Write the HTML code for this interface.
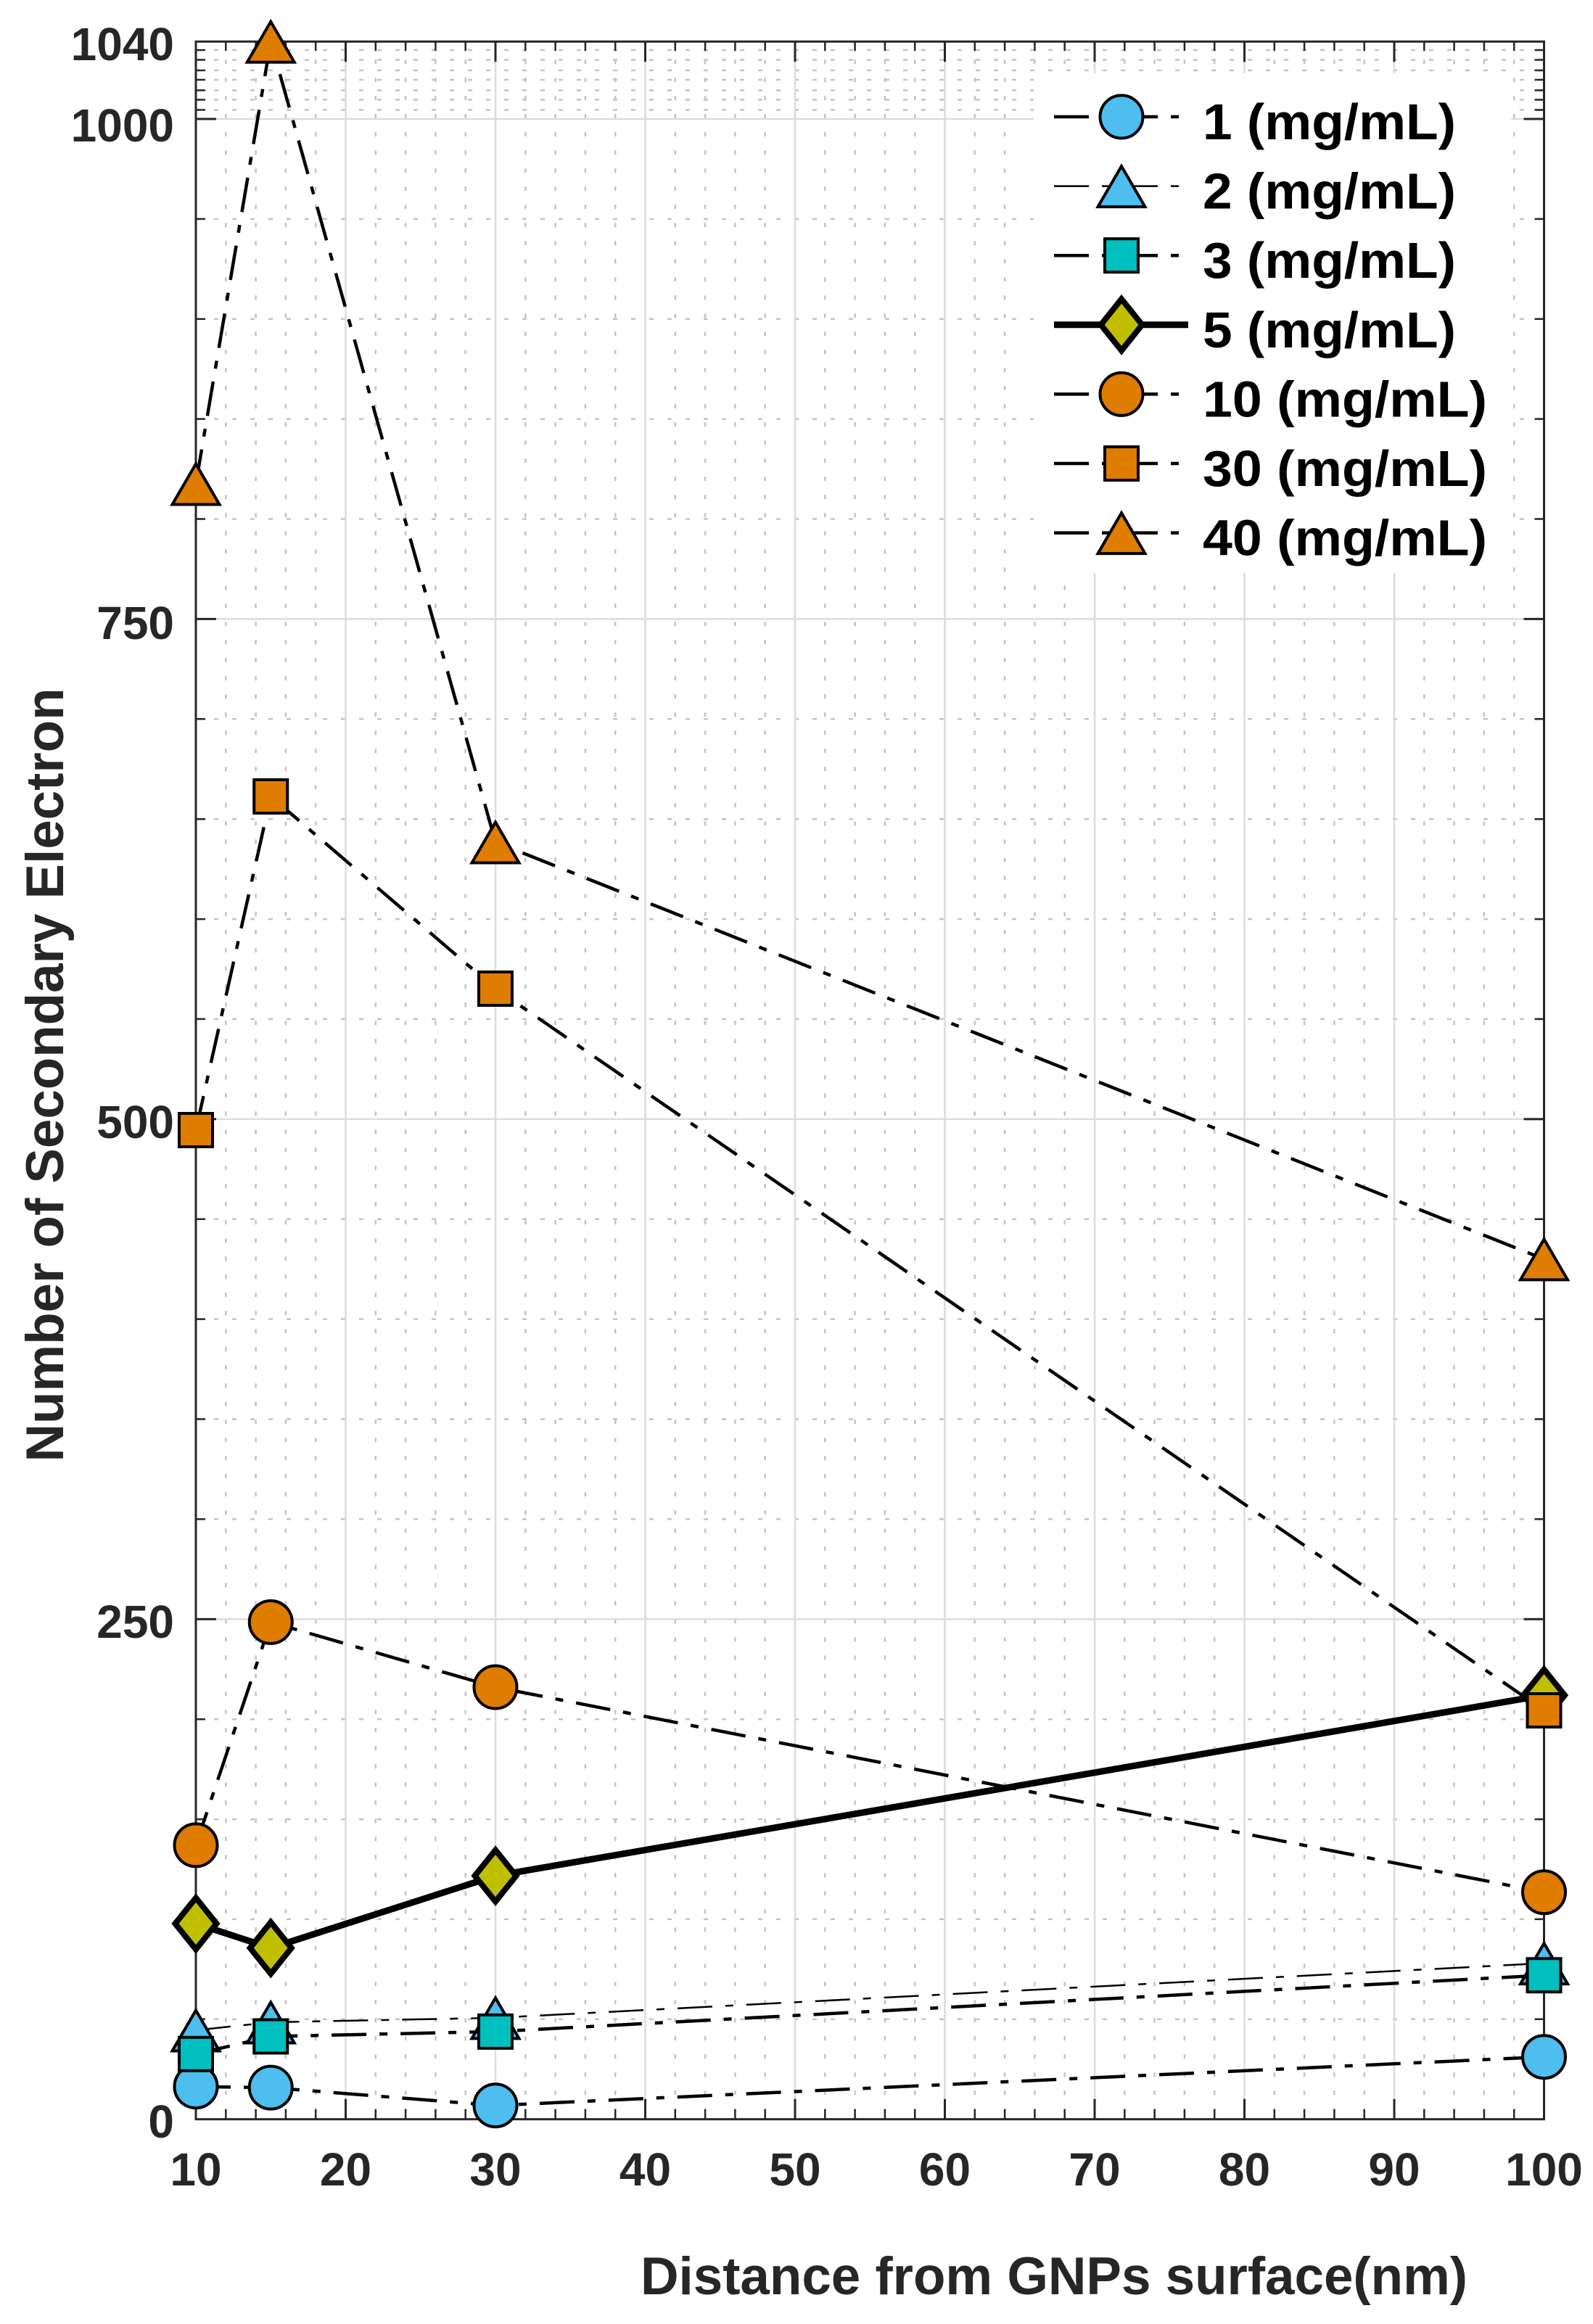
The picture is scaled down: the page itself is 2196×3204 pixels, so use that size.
<!DOCTYPE html>
<html><head><meta charset="utf-8"><style>
html,body{margin:0;padding:0;background:#fff;}
svg{display:block;}
text{font-family:"Liberation Sans",Arial,sans-serif;font-weight:bold;}
</style></head><body>
<svg width="2196" height="3204" viewBox="0 0 2196 3204" xmlns="http://www.w3.org/2000/svg">
<rect width="2196" height="3204" fill="#fff"/>
<!-- minor grid -->
<path fill="none" stroke="#c4c4c4" stroke-width="2.5" stroke-dasharray="6 19" d="
M311.3 57.3V2921.7M352.6 57.3V2921.7M393.9 57.3V2921.7M435.2 57.3V2921.7
M517.8 57.3V2921.7M559.1 57.3V2921.7M600.4 57.3V2921.7M641.7 57.3V2921.7
M724.3 57.3V2921.7M765.6 57.3V2921.7M806.9 57.3V2921.7M848.2 57.3V2921.7
M930.8 57.3V2921.7M972.1 57.3V2921.7M1013.4 57.3V2921.7M1054.7 57.3V2921.7
M1137.3 57.3V2921.7M1178.6 57.3V2921.7M1219.9 57.3V2921.7M1261.2 57.3V2921.7
M1343.8 57.3V2921.7M1385.1 57.3V2921.7M1426.4 57.3V2921.7M1467.7 57.3V2921.7
M1550.3 57.3V2921.7M1591.6 57.3V2921.7M1632.9 57.3V2921.7M1674.2 57.3V2921.7
M1756.8 57.3V2921.7M1798.1 57.3V2921.7M1839.4 57.3V2921.7M1880.7 57.3V2921.7
M1963.3 57.3V2921.7M2004.6 57.3V2921.7M2045.9 57.3V2921.7M2087.2 57.3V2921.7
M270 2783.8H2128.5M270 2645.9H2128.5M270 2508.1H2128.5M270 2370.2H2128.5
M270 2094.4H2128.5M270 1956.5H2128.5M270 1818.6H2128.5M270 1680.7H2128.5
M270 1404.9H2128.5M270 1267.1H2128.5M270 1129.2H2128.5M270 991.3H2128.5
M270 715.5H2128.5M270 577.6H2128.5M270 439.8H2128.5M270 301.9H2128.5
M270 151.5H2128.5M270 137.5H2128.5M270 124.5H2128.5M270 110H2128.5
M270 97H2128.5M270 82.5H2128.5M270 69H2128.5"/>
<!-- major grid -->
<path fill="none" stroke="#dcdcdc" stroke-width="2.5" d="
M476.5 57.3V2921.7M683 57.3V2921.7M889.5 57.3V2921.7M1096 57.3V2921.7
M1302.5 57.3V2921.7M1509 57.3V2921.7M1715.5 57.3V2921.7M1922 57.3V2921.7
M270 2232.3H2128.5M270 1542.9H2128.5M270 853.4H2128.5M270 164H2128.5"/>
<!-- axes box -->
<rect x="270" y="57.3" width="1858.5" height="2864.4" fill="none" stroke="#262626" stroke-width="3"/>
<!-- ticks -->
<path fill="none" stroke="#262626" stroke-width="3" d="
M270 2232.3h28M270 1542.9h28M270 853.4h28M270 164h28
M2128.5 2232.3h-28M2128.5 1542.9h-28M2128.5 853.4h-28M2128.5 164h-28
M476.5 2921.7v-28M683 2921.7v-28M889.5 2921.7v-28M1096 2921.7v-28M1302.5 2921.7v-28M1509 2921.7v-28M1715.5 2921.7v-28M1922 2921.7v-28
M476.5 57.3v28M683 57.3v28M889.5 57.3v28M1096 57.3v28M1302.5 57.3v28M1509 57.3v28M1715.5 57.3v28M1922 57.3v28"/>
<path fill="none" stroke="#262626" stroke-width="2.5" d="
M270 2783.8h13M270 2645.9h13M270 2508.1h13M270 2370.2h13M270 2094.4h13M270 1956.5h13M270 1818.6h13M270 1680.7h13
M270 1404.9h13M270 1267.1h13M270 1129.2h13M270 991.3h13M270 715.5h13M270 577.6h13M270 439.8h13M270 301.9h13
M270 151.5h13M270 137.5h13M270 124.5h13M270 110h13M270 97h13M270 82.5h13M270 69h13
M2128.5 2783.8h-13M2128.5 2645.9h-13M2128.5 2508.1h-13M2128.5 2370.2h-13M2128.5 2094.4h-13M2128.5 1956.5h-13M2128.5 1818.6h-13M2128.5 1680.7h-13
M2128.5 1404.9h-13M2128.5 1267.1h-13M2128.5 1129.2h-13M2128.5 991.3h-13M2128.5 715.5h-13M2128.5 577.6h-13M2128.5 439.8h-13M2128.5 301.9h-13
M2128.5 151.5h-13M2128.5 137.5h-13M2128.5 124.5h-13M2128.5 110h-13M2128.5 97h-13M2128.5 82.5h-13M2128.5 69h-13
M311.3 2921.7v-14M352.6 2921.7v-14M393.9 2921.7v-14M435.2 2921.7v-14M517.8 2921.7v-14M559.1 2921.7v-14M600.4 2921.7v-14M641.7 2921.7v-14
M724.3 2921.7v-14M765.6 2921.7v-14M806.9 2921.7v-14M848.2 2921.7v-14M930.8 2921.7v-14M972.1 2921.7v-14M1013.4 2921.7v-14M1054.7 2921.7v-14
M1137.3 2921.7v-14M1178.6 2921.7v-14M1219.9 2921.7v-14M1261.2 2921.7v-14M1343.8 2921.7v-14M1385.1 2921.7v-14M1426.4 2921.7v-14M1467.7 2921.7v-14
M1550.3 2921.7v-14M1591.6 2921.7v-14M1632.9 2921.7v-14M1674.2 2921.7v-14M1756.8 2921.7v-14M1798.1 2921.7v-14M1839.4 2921.7v-14M1880.7 2921.7v-14
M1963.3 2921.7v-14M2004.6 2921.7v-14M2045.9 2921.7v-14M2087.2 2921.7v-14
M311.3 57.3v13M352.6 57.3v13M393.9 57.3v13M435.2 57.3v13M517.8 57.3v13M559.1 57.3v13M600.4 57.3v13M641.7 57.3v13
M724.3 57.3v13M765.6 57.3v13M806.9 57.3v13M848.2 57.3v13M930.8 57.3v13M972.1 57.3v13M1013.4 57.3v13M1054.7 57.3v13
M1137.3 57.3v13M1178.6 57.3v13M1219.9 57.3v13M1261.2 57.3v13M1343.8 57.3v13M1385.1 57.3v13M1426.4 57.3v13M1467.7 57.3v13
M1550.3 57.3v13M1591.6 57.3v13M1632.9 57.3v13M1674.2 57.3v13M1756.8 57.3v13M1798.1 57.3v13M1839.4 57.3v13M1880.7 57.3v13
M1963.3 57.3v13M2004.6 57.3v13M2045.9 57.3v13M2087.2 57.3v13"/>
<!-- tick labels -->
<g fill="#262626" font-size="64" text-anchor="end">
<text x="240" y="83">1040</text>
<text x="240" y="195">1000</text>
<text x="240" y="881">750</text>
<text x="240" y="1569">500</text>
<text x="240" y="2258">250</text>
<text x="240" y="2947">0</text>
</g>
<g fill="#262626" font-size="64" text-anchor="middle">
<text x="270" y="3013">10</text>
<text x="476.5" y="3013">20</text>
<text x="683" y="3013">30</text>
<text x="889.5" y="3013">40</text>
<text x="1096" y="3013">50</text>
<text x="1302.5" y="3013">60</text>
<text x="1509" y="3013">70</text>
<text x="1715.5" y="3013">80</text>
<text x="1922" y="3013">90</text>
<text x="2128.5" y="3013">100</text>
</g>
<!-- axis labels -->
<text x="883" y="3163" font-size="73" fill="#262626" textLength="1140" lengthAdjust="spacingAndGlyphs">Distance from GNPs surface(nm)</text>
<text transform="translate(87,1482) rotate(-90)" x="0" y="0" font-size="73" fill="#262626" text-anchor="middle" textLength="1067" lengthAdjust="spacingAndGlyphs">Number of Secondary Electron</text>

<!-- Series 1 -->
<polyline fill="none" stroke="#000" stroke-width="4.5" stroke-dasharray="48 18 11 18" points="270,2876.7 373.25,2878.1 683,2902.7 2128.5,2835.7"/>
<g fill="#4DBEEE" stroke="#000" stroke-width="4">
<circle cx="270" cy="2876.7" r="29.5"/><circle cx="373.25" cy="2878.1" r="29.5"/><circle cx="683" cy="2902.7" r="29.5"/><circle cx="2128.5" cy="2835.7" r="29.5"/>
</g>
<!-- Series 2 -->
<polyline fill="none" stroke="#000" stroke-width="2.5" stroke-dasharray="48 18 11 18" points="270,2799 373.25,2788 683,2781.9 2128.5,2706.6"/>
<g fill="#4DBEEE" stroke="#000" stroke-width="4">
<path d="M270,2771.5 L302.5,2827.5 L237.5,2827.5Z"/>
<path d="M373.25,2760.5 L405.75,2816.5 L340.75,2816.5Z"/>
<path d="M683,2754.4 L715.5,2810.4 L650.5,2810.4Z"/>
<path d="M2128.5,2679.1 L2161,2735.1 L2096,2735.1Z"/>
</g>
<!-- Series 3 -->
<polyline fill="none" stroke="#000" stroke-width="4.5" stroke-dasharray="48 18 11 18" points="270,2831.8 373.25,2807.5 683,2800.9 2128.5,2723.2"/>
<g fill="#00BFBF" stroke="#000" stroke-width="4">
<rect x="247" y="2808.8" width="46" height="46"/><rect x="350.25" y="2784.5" width="46" height="46"/><rect x="660" y="2777.9" width="46" height="46"/><rect x="2105.5" y="2700.2" width="46" height="46"/>
</g>
<!-- Series 5 -->
<polyline fill="none" stroke="#000" stroke-width="9" stroke-linejoin="round" points="270,2652 373.25,2685.6 683,2586.1 2128.5,2337.1"/>
<g fill="#BFBF00" stroke="#000" stroke-width="8">
<path d="M270,2616.5 L298.5,2652 L270,2687.5 L241.5,2652Z"/>
<path d="M373.25,2650.1 L401.75,2685.6 L373.25,2721.1 L344.75,2685.6Z"/>
<path d="M683,2550.6 L711.5,2586.1 L683,2621.6 L654.5,2586.1Z"/>
<path d="M2128.5,2301.6 L2157,2337.1 L2128.5,2372.6 L2100,2337.1Z"/>
</g>
<!-- Series 10 -->
<polyline fill="none" stroke="#000" stroke-width="4.5" stroke-dasharray="48 18 11 18" points="270,2543.9 373.25,2236.4 683,2326 2128.5,2608.7"/>
<g fill="#DE7D00" stroke="#000" stroke-width="4">
<circle cx="270" cy="2543.9" r="29.5"/><circle cx="373.25" cy="2236.4" r="29.5"/><circle cx="683" cy="2326" r="29.5"/><circle cx="2128.5" cy="2608.7" r="29.5"/>
</g>
<!-- Series 30 -->
<polyline fill="none" stroke="#000" stroke-width="4.5" stroke-dasharray="48 18 11 18" points="270,1558 373.25,1098 683,1363 2128.5,2358"/>
<g fill="#DE7D00" stroke="#000" stroke-width="4">
<rect x="247" y="1535" width="46" height="46"/><rect x="350.25" y="1075" width="46" height="46"/><rect x="660" y="1340" width="46" height="46"/><rect x="2105.5" y="2335" width="46" height="46"/>
</g>
<!-- Series 40 -->
<polyline fill="none" stroke="#000" stroke-width="4.5" stroke-dasharray="48 18 11 18" points="270,667 373.25,57.3 683,1161 2128.5,1735.9"/>
<g fill="#DE7D00" stroke="#000" stroke-width="4">
<path d="M270,639.5 L302.5,695.5 L237.5,695.5Z"/>
<path d="M373.25,29.8 L405.75,85.8 L340.75,85.8Z"/>
<path d="M683,1133.5 L715.5,1189.5 L650.5,1189.5Z"/>
<path d="M2128.5,1708.4 L2161,1764.4 L2096,1764.4Z"/>
</g>

<!-- Legend -->
<rect x="1425" y="101" width="658" height="689" fill="#fff"/>
<g fill="none" stroke="#000" stroke-width="4.5" stroke-dasharray="48 18 11 18">
<path d="M1453 161H1638"/>
<path d="M1453 256.6H1638" stroke-width="2.5"/>
<path d="M1453 352.2H1638"/>
<path d="M1453 543.4H1638"/>
<path d="M1453 639H1638"/>
<path d="M1453 734.6H1638"/>
</g>
<path d="M1453 447.8H1638" stroke="#000" stroke-width="9" fill="none"/>
<g stroke="#000" stroke-width="4">
<circle cx="1546" cy="161" r="29.5" fill="#4DBEEE"/>
<path d="M1546,229.1 L1578.5,285.1 L1513.5,285.1Z" fill="#4DBEEE"/>
<rect x="1523" y="329.2" width="46" height="46" fill="#00BFBF"/>
<path d="M1546,412.3 L1574.5,447.8 L1546,483.3 L1517.5,447.8Z" fill="#BFBF00" stroke-width="8"/>
<circle cx="1546" cy="543.4" r="29.5" fill="#DE7D00"/>
<rect x="1523" y="616" width="46" height="46" fill="#DE7D00"/>
<path d="M1546,707.1 L1578.5,763.1 L1513.5,763.1Z" fill="#DE7D00"/>
</g>
<g fill="#000" font-size="70">
<text x="1658" y="192" textLength="349" lengthAdjust="spacingAndGlyphs">1 (mg/mL)</text>
<text x="1658" y="287.6" textLength="349" lengthAdjust="spacingAndGlyphs">2 (mg/mL)</text>
<text x="1658" y="383.2" textLength="349" lengthAdjust="spacingAndGlyphs">3 (mg/mL)</text>
<text x="1658" y="478.8" textLength="349" lengthAdjust="spacingAndGlyphs">5 (mg/mL)</text>
<text x="1658" y="574.4" textLength="392" lengthAdjust="spacingAndGlyphs">10 (mg/mL)</text>
<text x="1658" y="670" textLength="392" lengthAdjust="spacingAndGlyphs">30 (mg/mL)</text>
<text x="1658" y="765.6" textLength="392" lengthAdjust="spacingAndGlyphs">40 (mg/mL)</text>
</g>
</svg>
</body></html>
